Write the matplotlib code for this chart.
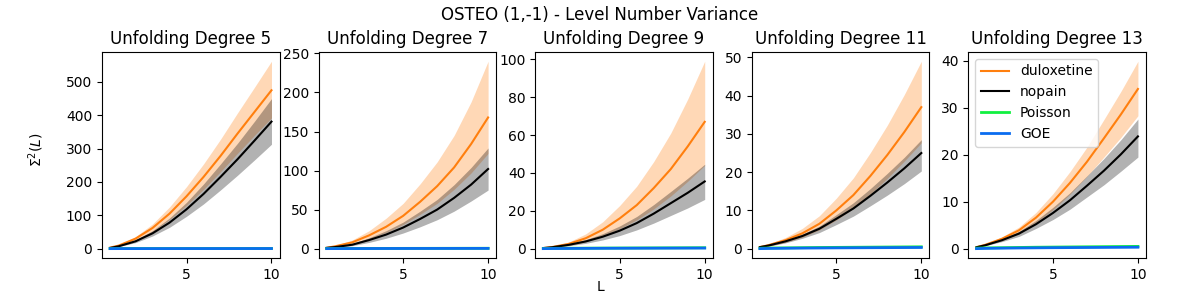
import numpy as np
import matplotlib
matplotlib.use('Agg')
import matplotlib.pyplot as plt

L = [0.5, 1, 2, 3, 4, 5, 6, 7, 8, 9, 10]
degrees = [5, 7, 9, 11, 13]

# duloxetine mean / upper / lower, per unfolding degree
dul = {
    5: [3, 9, 30, 62, 105, 157, 215, 278, 345, 410, 475],
    7: [1, 3, 8, 17, 28, 42, 60, 80, 104, 134, 168],
    9: [0.3, 0.8, 2.5, 5.5, 10, 16, 23, 32, 42, 54, 67],
    11: [0.4, 0.9, 2.2, 4, 6.5, 10, 14, 19, 24.5, 30.5, 37],
    13: [0.3, 0.8, 2.1, 3.9, 6.6, 10, 14, 18.5, 23.5, 28.6, 34],
}
dul_hi = {
    5: [4, 11, 36, 74, 125, 186, 254, 328, 407, 484, 562],
    7: [1.3, 4, 11, 23, 39, 58, 83, 111, 145, 188, 240],
    9: [0.4, 1.1, 3.5, 7.8, 14.2, 22.8, 33, 46, 61, 79, 99],
    11: [0.5, 1.2, 2.9, 5.3, 8.6, 13.2, 18.5, 25.1, 32.3, 40.3, 49],
    13: [0.4, 0.9, 2.5, 4.6, 7.7, 11.7, 16.4, 21.6, 27.5, 33.5, 39.9],
}
dul_lo = {
    5: [2, 7, 25, 51, 87, 130, 178, 231, 286, 340, 392],
    7: [0.7, 2.2, 6, 12.5, 20.5, 31, 44, 58, 76, 97, 122],
    9: [0.2, 0.5, 1.7, 3.7, 6.7, 10.6, 15.2, 21, 27.8, 35.6, 44],
    11: [0.3, 0.7, 1.6, 3, 4.9, 7.5, 10.5, 14.3, 18.4, 22.9, 27.7],
    13: [0.25, 0.7, 1.7, 3.2, 5.5, 8.3, 11.6, 15.4, 19.5, 23.7, 28.3],
}

# nopain mean / upper / lower
nop = {
    5: [2, 7, 22, 46, 78, 118, 164, 215, 268, 324, 381],
    7: [1, 2, 5, 11, 18, 27, 38, 50, 65, 82, 102],
    9: [0.3, 0.7, 2, 3.8, 6.3, 9.5, 13.5, 18.5, 24, 29.5, 35.5],
    11: [0.4, 0.8, 1.9, 3.3, 5.2, 7.8, 10.5, 13.8, 17.3, 21, 25],
    13: [0.3, 0.7, 1.8, 3.2, 5.2, 7.6, 10.3, 13.4, 16.6, 20.1, 23.9],
}
nop_hi = {
    5: [3, 8, 26, 54, 92, 139, 194, 254, 316, 382, 450],
    7: [1.2, 2.5, 6.3, 14, 23, 34, 48, 63, 82, 104, 129],
    9: [0.4, 0.9, 2.5, 4.8, 7.9, 12, 17, 23.3, 30.2, 37.2, 44.6],
    11: [0.5, 0.9, 2.2, 3.8, 5.9, 8.9, 12, 15.7, 19.7, 23.9, 28.5],
    13: [0.35, 0.8, 2.1, 3.7, 6, 8.8, 11.9, 15.5, 19.2, 23.2, 27.6],
}
nop_lo = {
    5: [2, 6, 18, 38, 64, 97, 134, 176, 220, 266, 313],
    7: [0.8, 1.5, 3.7, 8, 13.3, 20, 28, 37, 48, 61, 75],
    9: [0.2, 0.5, 1.5, 2.8, 4.6, 6.9, 9.9, 13.5, 17.5, 21.5, 26],
    11: [0.3, 0.6, 1.5, 2.7, 4.2, 6.3, 8.5, 11.2, 14, 17, 20.3],
    13: [0.25, 0.6, 1.5, 2.6, 4.3, 6.2, 8.4, 11, 13.6, 16.5, 19.5],
}

poisson = [0.1, 0.15, 0.2, 0.25, 0.3, 0.33, 0.36, 0.39, 0.42, 0.45, 0.48]
goe = [0.0, 0.05, 0.1, 0.14, 0.17, 0.2, 0.22, 0.24, 0.26, 0.28, 0.3]

fig, axes = plt.subplots(1, 5, figsize=(12, 3))
fig.subplots_adjust(left=0.085, right=0.955, top=0.827, bottom=0.14, wspace=0.22)

for ax, d in zip(axes, degrees):
    ax.fill_between(L, dul_lo[d], dul_hi[d], color='#ff7f0e', alpha=0.3, lw=0)
    ax.plot(L, dul[d], color='#ff7f0e', lw=1.5, label='duloxetine')
    ax.fill_between(L, nop_lo[d], nop_hi[d], color='black', alpha=0.3, lw=0)
    ax.plot(L, nop[d], color='black', lw=1.5, label='nopain')
    ax.plot(L, poisson, color='#10f040', lw=2, label='Poisson')
    ax.plot(L, goe, color='#0a6cf0', lw=2, label='GOE')
    ax.set_title(f'Unfolding Degree {d}')

axes[-1].legend(loc='upper left')
fig.suptitle('OSTEO (1,-1) - Level Number Variance')
fig.text(0.5, 0.043, 'L', ha='center', va='center')
fig.text(0.03, 0.5, r'$\Sigma^2(L)$', ha='center', va='center', rotation=90)

plt.savefig('out.png', dpi=100)
plt.close()
